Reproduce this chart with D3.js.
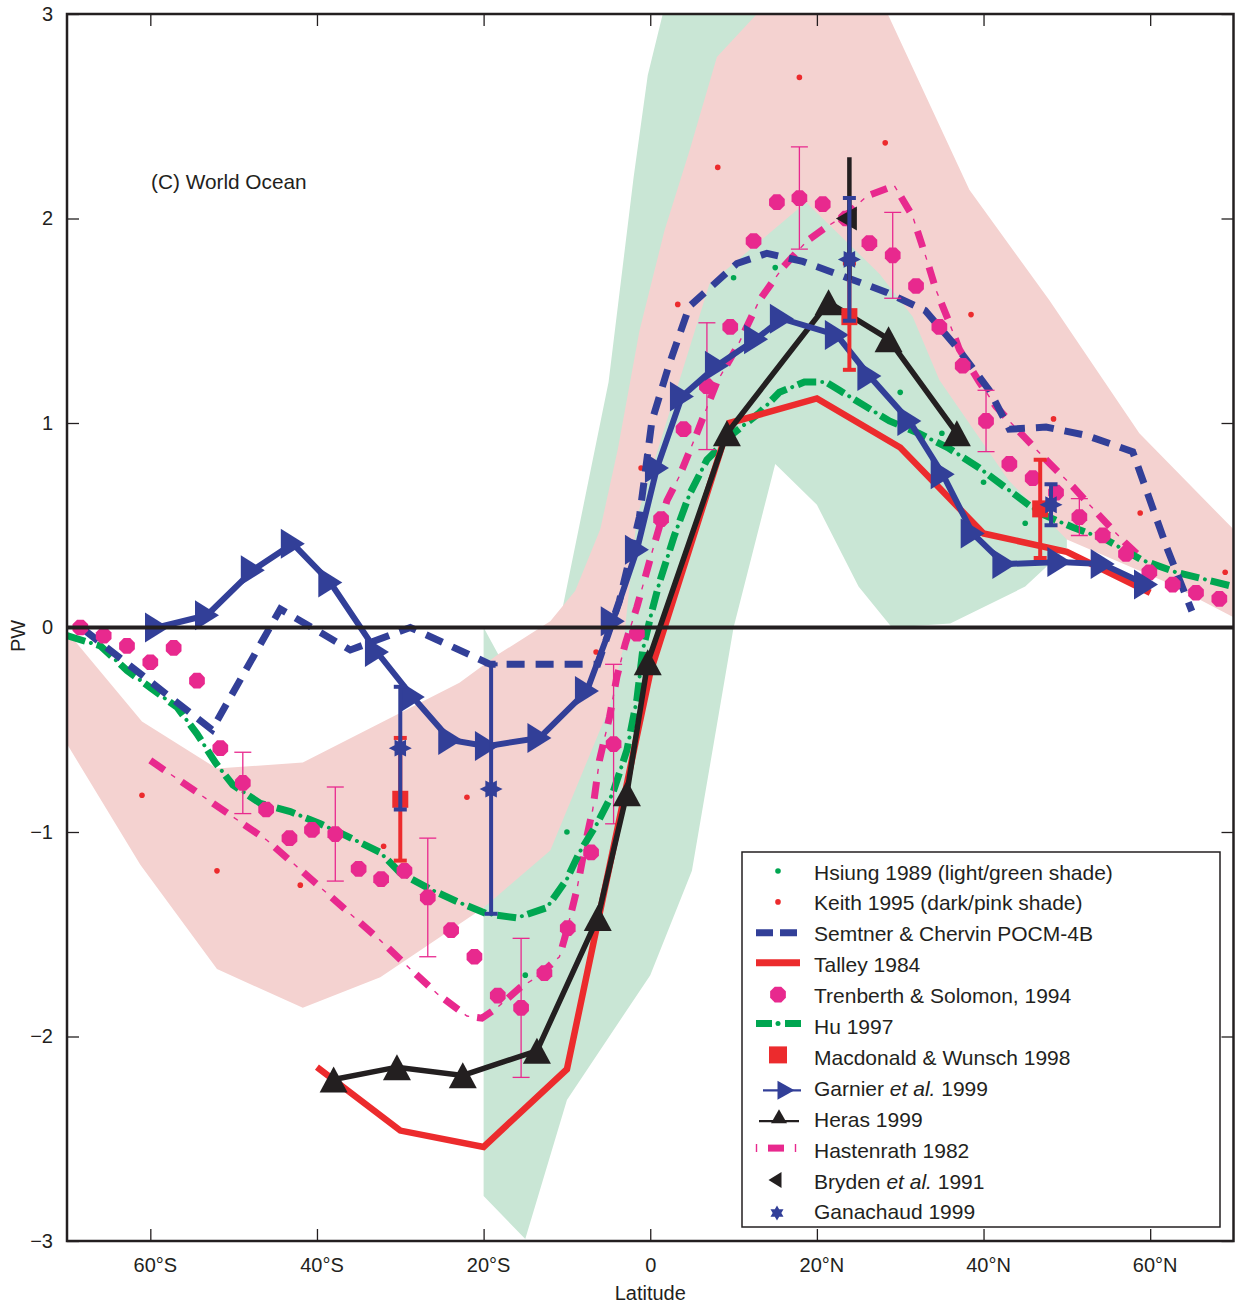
<!DOCTYPE html>
<html><head><meta charset="utf-8">
<script src="https://cdn.jsdelivr.net/npm/d3@7"></script>
<style>
html,body{margin:0;padding:0;background:#fff;}
svg{display:block;}
text{font-family:"Liberation Sans",Arial,Helvetica,sans-serif;fill:#231f20;}
</style></head><body>
<svg id="chart" width="1235" height="1303"></svg>
<script>
// ---- axis ticks ----
const latTicks = [-60, -40, -20, 0, 20, 40, 60];
const latTickLabels = ["60°S", "40°S", "20°S", "0", "20°N", "40°N", "60°N"];
const pwTicks = [-3, -2, -1, 0, 1, 2, 3];
const pwTickLabels = ["−3", "−2", "−1", "0", "1", "2", "3"];

// ---- shaded ranges [latitude, PW] ----
const hsiungShade = [[-20,0.0],[-16,-0.3],[-11,0.0],[-8,0.6],[-5,1.2],[-2,2.2],[-0.3,2.7],[1.5,3.0],[8,3.6],[16,3.6],
  [25,2.6],[35,1.5],[45,0.75],[50,0.45],[50,0.39],[45,0.2],[36,0.02],[29,0.0],[25,0.2],[20,0.6],[15,0.8],[10,0.0],
  [5,-1.19],[0,-1.7],[-10,-2.31],[-15,-2.99],[-20,-2.78]];
const keithShadeUpper = [[-70,-0.02],[-61,-0.46],[-52,-0.69],[-41.7,-0.66],[-22.9,-0.27],[-18.2,-0.13],[-12,0.03],
  [-9,0.18],[-6,0.48],[-3.9,0.87],[-1.3,1.45],[1.7,1.94],[4.7,2.33],[8,2.79],[12.8,3.0],[20,3.3],[28.5,3.0],
  [38.3,2.14],[47.9,1.6],[58.7,0.95],[70,0.48]];
const keithShadeLower = [[-70,-0.57],[-61.2,-1.16],[-52,-1.67],[-41.7,-1.86],[-32.4,-1.71],[-20,-1.37],[-12,-1.09],
  [-4.9,-0.39],[-3.3,-0.11],[-1.6,0.54],[7.1,1.68],[18.7,2.08],[27.5,1.73],[31.5,1.52],[34.7,1.21],[43,0.72],
  [50,0.43],[62,0.22],[70,0.05]];

// ---- series [latitude, PW] ----
const hsiung = [[-15,-1.70],[-10,-1.0],[10,1.71],[15,1.76],[30,1.15],[35,0.95],[40,0.71],[45,0.51]];
const keith = [[-61,-0.82],[-52,-1.19],[-42,-1.26],[-32,-1.07],[-22,-0.83],[-6.5,-0.12],[-1.1,0.78],[3.3,1.58],
  [8.1,2.25],[17.9,2.69],[28.2,2.37],[38.5,1.53],[48.4,1.02],[58.8,0.56],[69,0.27]];
const semtner = [[-68,-0.01],[-52.6,-0.50],[-44.4,0.09],[-36,-0.11],[-28.8,0.0],[-19.2,-0.18],[-6.3,-0.18],
  [-3.7,0.13],[-1.3,0.54],[0.2,1.01],[2.3,1.29],[4.7,1.57],[10.4,1.78],[14,1.83],[18.3,1.79],[23,1.72],[28.3,1.64],
  [33,1.55],[37,1.36],[40.7,1.16],[43.1,0.97],[47.5,0.98],[52.3,0.94],[57.9,0.86],[62,0.39],[65,0.08]];
const talley = [[-40,-2.15],[-30,-2.46],[-20,-2.54],[-10,-2.16],[0,-0.22],[9.5,1.0],[20,1.12],[30,0.88],[40,0.46],
  [50,0.37],[60,0.17]];
const trenberth = [[-68.4,0.0],[-65.6,-0.04],[-62.8,-0.09],[-60,-0.17],[-57.2,-0.10],[-54.4,-0.26],[-51.6,-0.59],
  [-48.9,-0.76],[-46.1,-0.89],[-43.3,-1.03],[-40.6,-0.99],[-37.8,-1.01],[-35,-1.18],[-32.3,-1.23],[-29.5,-1.19],
  [-26.7,-1.32],[-23.9,-1.48],[-21.1,-1.61],[-18.3,-1.80],[-15.5,-1.86],[-12.7,-1.69],[-9.9,-1.47],[-7.1,-1.10],
  [-4.4,-0.57],[-1.6,-0.03],[1.3,0.53],[4,0.97],[6.8,1.18],[9.6,1.47],[12.4,1.89],[15.2,2.08],[17.9,2.10],
  [20.7,2.07],[23.5,2.0],[26.3,1.88],[29.1,1.82],[31.9,1.67],[34.7,1.47],[37.5,1.28],[40.3,1.01],[43.1,0.80],
  [45.9,0.73],[48.7,0.66],[51.5,0.54],[54.3,0.45],[57.1,0.36],[59.9,0.27],[62.7,0.21],[65.5,0.17],[68.3,0.14]];
// [latitude, PW, half-range]
const trenberthErr = [[-48.9,-0.76,0.15],[-37.8,-1.01,0.23],[-26.7,-1.32,0.29],[-15.5,-1.86,0.34],[-4.4,-0.57,0.39],
  [6.8,1.18,0.31],[17.9,2.10,0.25],[29.1,1.82,0.21],[40.3,1.01,0.15],[51.5,0.54,0.09]];
const hu = [[-70,-0.04],[-66,-0.09],[-62.8,-0.21],[-59.8,-0.30],[-56.8,-0.39],[-54.4,-0.52],[-52.2,-0.66],
  [-50.1,-0.77],[-46.8,-0.86],[-43.2,-0.90],[-39.6,-0.96],[-36.4,-1.02],[-32.4,-1.10],[-30,-1.20],[-26.4,-1.28],
  [-23.2,-1.34],[-19.6,-1.40],[-16,-1.42],[-12.4,-1.37],[-10,-1.23],[-8.5,-1.10],[-6.4,-0.96],[-4.5,-0.81],
  [-2.8,-0.60],[-1.6,-0.35],[-0.9,-0.11],[0.2,0.08],[1.1,0.22],[2.9,0.45],[4.7,0.65],[6.8,0.82],[10,0.95],
  [13.1,1.05],[15.5,1.15],[18.5,1.20],[21.1,1.20],[22.7,1.16],[25.9,1.08],[28.7,1.01],[32.2,0.95],[35.7,0.88],
  [39.5,0.78],[43.1,0.67],[46.7,0.56],[50.7,0.49],[54.7,0.43],[59,0.33],[63.1,0.27],[67.1,0.23],[70,0.20]];
const macdonald = [[-30,-0.84,0.30],[23.9,1.52,0.26],[46.8,0.58,0.24]];
const garnier = [[-59.2,0.0],[-53.2,0.06],[-47.7,0.28],[-42.9,0.41],[-38.4,0.22],[-32.8,-0.12],[-28.5,-0.34],
  [-24,-0.55],[-19.6,-0.58],[-13.3,-0.54],[-7.6,-0.31],[-4.5,0.03],[-1.6,0.38],[0.8,0.78],[3.8,1.13],[8,1.28],
  [12.7,1.41],[15.8,1.51],[22.4,1.43],[26.3,1.23],[31.1,1.01],[35.1,0.75],[38.7,0.46],[42.5,0.31],[49.1,0.32],
  [54.3,0.31],[59.5,0.21]];
const heras = [[-38,-2.21],[-30.4,-2.15],[-22.5,-2.19],[-13.6,-2.07],[-6.3,-1.42],[-2.8,-0.81],[-0.3,-0.17],
  [9.2,0.95],[21.4,1.59],[28.6,1.41],[36.8,0.95]];
const hastenrath = [[-60,-0.65],[-46,-1.04],[-32.4,-1.53],[-28.8,-1.67],[-25.6,-1.79],[-22,-1.90],[-20.2,-1.91],
  [-18.4,-1.86],[-15.6,-1.76],[-13.6,-1.71],[-10.9,-1.61],[-10,-1.48],[-8.8,-1.28],[-7.6,-1.02],[-6.9,-0.89],
  [-6.1,-0.65],[-4.9,-0.44],[-4.0,-0.24],[-3.0,-0.08],[-1.6,0.1],[0.3,0.38],[2.0,0.62],[3.5,0.74],[5.6,0.95],
  [8,1.20],[10.4,1.37],[13.1,1.60],[15.9,1.76],[18.8,1.89],[21.2,1.96],[23.9,2.03],[26,2.11],[29.3,2.16],
  [31.5,2.01],[33.1,1.81],[34.3,1.65],[35.9,1.49],[37.1,1.36],[39.5,1.20],[41.5,1.08],[44,0.97],[47.5,0.82],
  [50.7,0.69],[54.3,0.53],[57.1,0.41],[58.7,0.35]];
const bryden = [[23.9,2.0,0.30]];
const ganachaud = [[-30,-0.59,0.30],[-19.1,-0.79,0.61],[23.9,1.80,0.30],[48.1,0.60,0.10]];

const legendLabels = ["Hsiung 1989 (light/green shade)", "Keith 1995 (dark/pink shade)", "Semtner & Chervin POCM-4B",
  "Talley 1984", "Trenberth & Solomon, 1994", "Hu 1997", "Macdonald & Wunsch 1998", "Garnier et al. 1999",
  "Heras 1999", "Hastenrath 1982", "Bryden et al. 1991", "Ganachaud 1999"];

// ---- colours ----
const C = {
  ink: "#231f20", blue: "#323f98", red: "#ec2b2d", magenta: "#e8298e", green: "#00a651",
  greenShade: "#c9e6d5", pinkShade: "#f4d2d0"
};

const svg = d3.select("#chart");
const x = d3.scaleLinear().domain([-70, 70]).range([67, 1233.5]);
const y = d3.scaleLinear().domain([-3, 3]).range([1241, 14]);
const line = d3.line().x(d => x(d[0])).y(d => y(d[1]));

svg.append("defs").append("clipPath").attr("id", "plotClip")
  .append("rect").attr("x", x(-70)).attr("y", y(3)).attr("width", x(70) - x(-70)).attr("height", y(-3) - y(3));

const plot = svg.append("g").attr("clip-path", "url(#plotClip)");

// shaded envelopes
plot.append("path").attr("d", line(hsiungShade) + "Z").attr("fill", C.greenShade);
plot.append("path").attr("d", line(keithShadeUpper.concat(keithShadeLower.slice().reverse())) + "Z")
  .attr("fill", C.pinkShade);

// marker shapes
function octagon(r) {
  const pts = d3.range(8).map(i => { const a = Math.PI / 8 + i * Math.PI / 4; return [r * Math.cos(a), r * Math.sin(a)]; });
  return "M" + pts.map(p => p.join(",")).join("L") + "Z";
}
function hexagram(R, rot) {
  const r = R / Math.sqrt(3);
  const pts = d3.range(12).map(i => {
    const a = rot + i * Math.PI / 6; const rr = i % 2 === 0 ? R : r;
    return [rr * Math.cos(a), rr * Math.sin(a)];
  });
  return "M" + pts.map(p => p.join(",")).join("L") + "Z";
}
const triRight = (w, h) => `M${-w/2},${-h/2}L${w/2},0L${-w/2},${h/2}Z`;
const triLeft = (w, h) => `M${w/2},${-h/2}L${-w/2},0L${w/2},${h/2}Z`;
const triUp = (w, h) => `M${-w/2},${h/2}L0,${-h/2}L${w/2},${h/2}Z`;

// small dots
plot.selectAll(".keith").data(keith).join("circle")
  .attr("cx", d => x(d[0])).attr("cy", d => y(d[1])).attr("r", 2.8).attr("fill", C.red);
plot.selectAll(".hsiung").data(hsiung).join("circle")
  .attr("cx", d => x(d[0])).attr("cy", d => y(d[1])).attr("r", 2.8).attr("fill", C.green);

// Hastenrath: thick dash with thin tick between
plot.append("path").attr("d", line(hastenrath)).attr("fill", "none").attr("stroke", C.magenta)
  .attr("stroke-width", 7).attr("stroke-dasharray", "17 21");
plot.append("path").attr("d", line(hastenrath)).attr("fill", "none").attr("stroke", C.magenta)
  .attr("stroke-width", 1.4).attr("stroke-dasharray", "5 33").attr("stroke-dashoffset", -25);

// Hu: dash-dot
plot.append("path").attr("d", line(hu)).attr("fill", "none").attr("stroke", C.green)
  .attr("stroke-width", 7).attr("stroke-dasharray", "19 12");
plot.append("path").attr("d", line(hu)).attr("fill", "none").attr("stroke", C.green)
  .attr("stroke-width", 4).attr("stroke-linecap", "round")
  .attr("stroke-dasharray", "0.01 30.99").attr("stroke-dashoffset", -25);

// Semtner & Chervin: dashed
plot.append("path").attr("d", line(semtner)).attr("fill", "none").attr("stroke", C.blue)
  .attr("stroke-width", 7).attr("stroke-dasharray", "18 11");

// Trenberth & Solomon: error bars and octagon dots
const tsErr = plot.selectAll(".tsErr").data(trenberthErr).join("g");
tsErr.append("line").attr("x1", d => x(d[0])).attr("x2", d => x(d[0]))
  .attr("y1", d => y(d[1] + d[2])).attr("y2", d => y(d[1] - d[2]));
tsErr.append("line").attr("x1", d => x(d[0]) - 8.5).attr("x2", d => x(d[0]) + 8.5)
  .attr("y1", d => y(d[1] + d[2])).attr("y2", d => y(d[1] + d[2]));
tsErr.append("line").attr("x1", d => x(d[0]) - 8.5).attr("x2", d => x(d[0]) + 8.5)
  .attr("y1", d => y(d[1] - d[2])).attr("y2", d => y(d[1] - d[2]));
tsErr.selectAll("line").attr("stroke", C.magenta).attr("stroke-width", 1.3);
plot.selectAll(".ts").data(trenberth).join("path")
  .attr("d", octagon(8.5)).attr("transform", d => `translate(${x(d[0])},${y(d[1])})`).attr("fill", C.magenta);

// Talley
plot.append("path").attr("d", line(talley)).attr("fill", "none").attr("stroke", C.red)
  .attr("stroke-width", 6.5).attr("stroke-linejoin", "miter");

// Heras
plot.append("path").attr("d", line(heras)).attr("fill", "none").attr("stroke", C.ink).attr("stroke-width", 5.5);
plot.selectAll(".heras").data(heras).join("path")
  .attr("d", triUp(28, 26)).attr("transform", d => `translate(${x(d[0])},${y(d[1])})`).attr("fill", C.ink);

// Garnier
plot.append("path").attr("d", line(garnier)).attr("fill", "none").attr("stroke", C.blue).attr("stroke-width", 6);
plot.selectAll(".garnier").data(garnier).join("path")
  .attr("d", triRight(24, 30)).attr("transform", d => `translate(${x(d[0])},${y(d[1])})`).attr("fill", C.blue);

// error bars with optional caps
function errorBar(sel, data, color, width, cap) {
  const g = sel.selectAll(null).data(data).join("g");
  g.append("line").attr("x1", d => x(d[0])).attr("x2", d => x(d[0]))
    .attr("y1", d => y(d[1] + d[2])).attr("y2", d => y(d[1] - d[2]))
    .attr("stroke", color).attr("stroke-width", width);
  if (cap) {
    [1, -1].forEach(s => g.append("line")
      .attr("x1", d => x(d[0]) - cap / 2).attr("x2", d => x(d[0]) + cap / 2)
      .attr("y1", d => y(d[1] + s * d[2])).attr("y2", d => y(d[1] + s * d[2]))
      .attr("stroke", color).attr("stroke-width", width));
  }
  return g;
}
// Macdonald & Wunsch
errorBar(plot, macdonald, C.red, 4, 13).append("rect")
  .attr("x", d => x(d[0]) - 8).attr("y", d => y(d[1]) - 8.5).attr("width", 16).attr("height", 17).attr("fill", C.red);

// Bryden
errorBar(plot, bryden, C.ink, 4.5, 0).append("path")
  .attr("d", triLeft(21, 24)).attr("transform", d => `translate(${x(d[0]) - 3},${y(d[1])})`).attr("fill", C.ink);

// Ganachaud
errorBar(plot, ganachaud, C.blue, 4, 13).append("path")
  .attr("d", hexagram(11.5, 0)).attr("transform", d => `translate(${x(d[0])},${y(d[1])}) scale(1,0.85)`)
  .attr("fill", C.blue);

// zero line
plot.append("line").attr("x1", x(-70)).attr("x2", x(70)).attr("y1", y(0)).attr("y2", y(0))
  .attr("stroke", C.ink).attr("stroke-width", 4);

// ---- axes ----
const axisStyle = g => {
  g.select(".domain").remove();
  g.selectAll(".tick line").attr("stroke", C.ink).attr("stroke-width", 1.3);
  g.selectAll("text").attr("font-size", 20).attr("fill", C.ink)
    .attr("font-family", '"Liberation Sans",Arial,Helvetica,sans-serif');
};
svg.append("g").attr("transform", `translate(0,${y(-3)})`)
  .call(d3.axisBottom(x).tickValues(latTicks).tickFormat((d, i) => latTickLabels[i]).tickSizeInner(-12).tickSizeOuter(0).tickPadding(17))
  .call(axisStyle)
  .call(g => g.selectAll(".tick text").attr("dx", d => d === 0 ? 0 : 4.5));
svg.append("g").attr("transform", `translate(0,${y(3)})`)
  .call(d3.axisTop(x).tickValues(latTicks).tickFormat("").tickSizeInner(-12).tickSizeOuter(0))
  .call(axisStyle);
svg.append("g").attr("transform", `translate(${x(-70)},0)`)
  .call(d3.axisLeft(y).tickValues(pwTicks).tickFormat((d, i) => pwTickLabels[i]).tickSizeInner(-12).tickSizeOuter(0).tickPadding(14))
  .call(axisStyle);
svg.append("g").attr("transform", `translate(${x(70)},0)`)
  .call(d3.axisRight(y).tickValues(pwTicks).tickFormat("").tickSizeInner(-12).tickSizeOuter(0))
  .call(axisStyle);

svg.append("rect").attr("x", x(-70)).attr("y", y(3)).attr("width", x(70) - x(-70)).attr("height", y(-3) - y(3))
  .attr("fill", "none").attr("stroke", C.ink).attr("stroke-width", 2.5);

svg.append("text").attr("x", (x(-70) + x(70)) / 2).attr("y", 1300).attr("text-anchor", "middle")
  .attr("font-size", 20).text("Latitude");
svg.append("text").attr("transform", "translate(25,636) rotate(-90)").attr("text-anchor", "middle")
  .attr("font-size", 20).text("PW");
svg.append("text").attr("x", 151).attr("y", 189).attr("font-size", 20.8).text("(C) World Ocean");

// ---- legend ----
const lg = svg.append("g");
lg.append("rect").attr("x", 742).attr("y", 852).attr("width", 478).attr("height", 375)
  .attr("fill", "#fff").attr("stroke", C.ink).attr("stroke-width", 1.5);
const rowY = i => 872 + i * 30.9;
const sx = 778;
legendLabels.forEach((lab, i) => {
  const t = lg.append("text").attr("x", 814).attr("y", rowY(i)).attr("dy", "0.36em").attr("font-size", 21);
  const parts = lab.split("et al.");
  t.append("tspan").text(parts[0]);
  if (parts.length > 1) {
    t.append("tspan").attr("font-style", "italic").text("et al.");
    t.append("tspan").text(parts[1]);
  }
});
const sym = i => lg.append("g").attr("transform", `translate(0,${rowY(i)})`);
sym(0).append("circle").attr("cx", sx).attr("cy", -1).attr("r", 2.8).attr("fill", C.green);
sym(1).append("circle").attr("cx", sx).attr("cy", -1).attr("r", 2.8).attr("fill", C.red);
sym(2).append("path").attr("d", "M756,-1H773M780,-1H797").attr("stroke", C.blue).attr("stroke-width", 7);
sym(3).append("path").attr("d", "M756,-2H800").attr("stroke", C.red).attr("stroke-width", 7);
sym(4).append("path").attr("d", octagon(8.5)).attr("transform", `translate(${sx},-1)`).attr("fill", C.magenta);
const g5 = sym(5);
g5.append("path").attr("d", "M756,-3H772M785,-3H801").attr("stroke", C.green).attr("stroke-width", 7);
g5.append("circle").attr("cx", sx).attr("cy", -3).attr("r", 2.5).attr("fill", C.green);
sym(6).append("rect").attr("x", 769).attr("y", -11).attr("width", 18).attr("height", 17).attr("fill", C.red);
const g7 = sym(7);
g7.append("path").attr("d", "M763,2H801").attr("stroke", C.blue).attr("stroke-width", 2.2);
g7.append("path").attr("d", triRight(17, 19)).attr("transform", "translate(786,2)").attr("fill", C.blue);
const g8 = sym(8);
g8.append("path").attr("d", "M759,2H799").attr("stroke", C.ink).attr("stroke-width", 2.2);
g8.append("path").attr("d", triUp(16, 14)).attr("transform", "translate(779,-3)").attr("fill", C.ink);
const g9 = sym(9);
g9.append("path").attr("d", "M768,-2H784").attr("stroke", C.magenta).attr("stroke-width", 7);
g9.append("path").attr("d", "M756.5,-6V2M795.5,-6V2").attr("stroke", C.magenta).attr("stroke-width", 1.4);
sym(10).append("path").attr("d", triLeft(13, 16)).attr("transform", "translate(775,-1)").attr("fill", C.ink);
sym(11).append("path").attr("d", hexagram(7.5, -Math.PI / 2)).attr("transform", "translate(777,1)").attr("fill", C.blue);
</script>
</body></html>
